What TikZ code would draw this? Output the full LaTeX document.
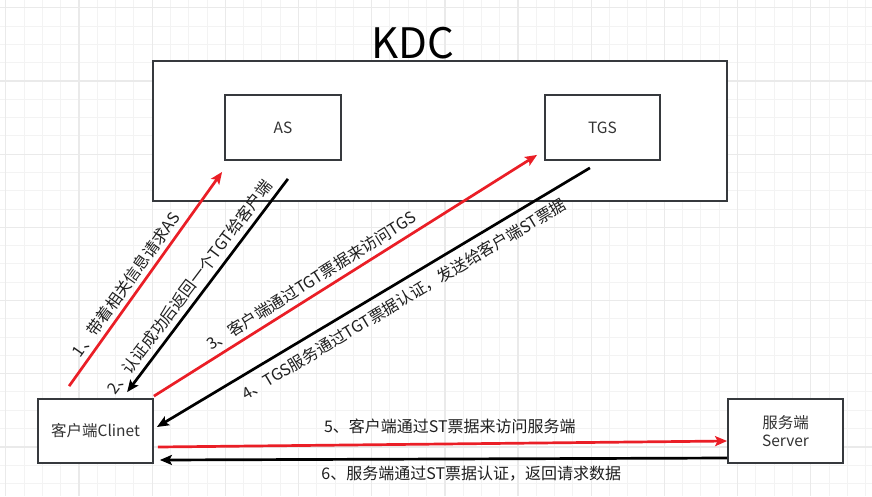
\documentclass[tikz,border=0pt]{standalone}
\usepackage{fontspec}
\setmainfont{Noto Sans CJK SC}
\usetikzlibrary{arrows.meta,calc}
\definecolor{kred}{RGB}{234,30,38}
\definecolor{boxc}{RGB}{54,57,61}
\definecolor{btext}{RGB}{51,51,51}
\definecolor{gminor}{RGB}{243,243,243}
\definecolor{gmajor}{RGB}{234,234,234}
\tikzset{
  box/.style={draw=boxc, line width=1.8pt, fill=white, inner sep=0pt, text=btext,
    font=\fontsize{15.5}{18.7}\selectfont, align=center},
  arr/.style={line width=2.7pt, -{Stealth[length=12pt,width=10pt,inset=2.5pt]}},
  redarr/.style={arr, draw=kred},
  blackarr/.style={arr, draw=black},
  lbl/.style={font=\fontsize{16}{18}\selectfont, text=black!88, inner sep=1pt},
  gridminor/.style={draw=gminor, line width=1pt},
  gridmajor/.style={draw=gmajor, line width=1.3pt}
}
\begin{document}
\begin{tikzpicture}[x=1pt,y=-1pt]
\useasboundingbox (0,0) rectangle (872,496);
\fill[white] (0,0) rectangle (872,496);
% grid
\foreach \i in {0,...,47} {
  \draw[gridminor] ({5.84+\i*18.2925},0) -- ({5.84+\i*18.2925},496);
}
\foreach \i in {0,...,27} {
  \draw[gridminor] (0,{7.83+\i*18.2925}) -- (872,{7.83+\i*18.2925});
}
\foreach \i in {0,...,11} {
  \draw[gridmajor] ({5.84+\i*73.17},0) -- ({5.84+\i*73.17},496);
}
\foreach \i in {0,...,6} {
  \draw[gridmajor] (0,{7.83+\i*73.17}) -- (872,{7.83+\i*73.17});
}
% boxes
\node[box, minimum width=574, minimum height=140] (kdc) at (440,131) {};
\node[text=black, font=\fontsize{42}{48}\selectfont, inner sep=0pt] (kdclabel) at (413,43) {KDC};
\node[box, minimum width=116, minimum height=65] (as) at (283,127.5) {AS};
\node[box, minimum width=115, minimum height=65] (tgs) at (602.5,127.5) {TGS};
\node[box, minimum width=115, minimum height=64] (client) at (95.5,431) {客户端Clinet};
\node[box, minimum width=115, minimum height=64] (server) at (785.5,431) {服务端\\Server};
% connectors
\draw[redarr] ([shift={(32,-12)}]client.north west) --
  node[lbl, sloped, pos=0.44, above=3pt] {1、带着相关信息请求AS}
  ([shift={(-2,11)}]as.south west);
\draw[blackarr] ([shift={(-54,18)}]as.south east) --
  node[lbl, sloped, pos=0.545, above=4pt] {2、认证成功后返回一个TGT给客户端}
  ([shift={(90,-6)}]client.north west);
\draw[redarr] ([shift={(0,-2)}]client.north east) --
  node[lbl, sloped, pos=0.43, above=4pt] {3、客户端通过TGT票据来访问TGS}
  ([shift={(-7,-6)}]tgs.south west);
\draw[blackarr] ([shift={(-71,7)}]tgs.south east) --
  node[lbl, sloped, pos=0.45, below=7pt] {4、TGS服务通过TGT票据认证，发送给客户端ST票据}
  ([shift={(3,-4)}]client.east);
\draw[redarr] ([shift={(4,16)}]client.east) --
  node[lbl, pos=0.513, above=8pt] {5、客户端通过ST票据来访问服务端}
  ([shift={(0,10)}]server.west);
\draw[blackarr] ([shift={(0,27)}]server.west) --
  node[lbl, pos=0.451, below=5pt] {6、服务端通过ST票据认证，返回请求数据}
  ([shift={(6,29)}]client.east);
\end{tikzpicture}
\end{document}
